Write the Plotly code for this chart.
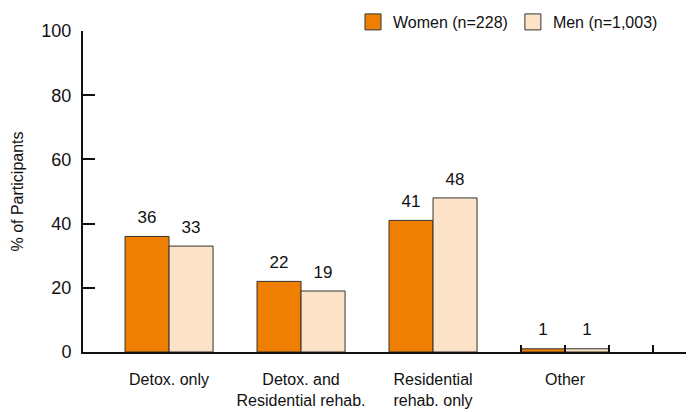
import plotly.graph_objects as go

# data
categories = ["Detox. only", "Detox. and<br>Residential rehab.", "Residential<br>rehab. only", "Other"]
women = [36, 22, 41, 1]
men = [33, 19, 48, 1]
series_names = ["Women (n=228)", "Men (n=1,003)"]
y_ticks = [0, 20, 40, 60, 80, 100]

FONT = "Liberation Sans, Arial, Helvetica, sans-serif"
ORANGE = "#EE7F00"
PEACH = "#FCE2C6"
EDGE = "#333333"
# page has an 8px body margin, so margins are pulled in by 8px
X_RANGE = [-0.652, 4.038]

fig = go.Figure()
for name, vals, color in [(series_names[0], women, ORANGE), (series_names[1], men, PEACH)]:
    fig.add_trace(go.Bar(
        x=categories, y=vals, name=name, showlegend=False,
        marker=dict(color=color, line=dict(color=EDGE, width=1)),
    ))
    # value labels, lifted above the bars by an invisible marker
    fig.add_trace(go.Scatter(
        x=categories, y=vals, mode="markers+text", showlegend=False,
        text=[str(v) for v in vals], textposition="top center",
        textfont=dict(size=17, color="#111111", family=FONT),
        marker=dict(size=13, color="rgba(0,0,0,0)"),
        cliponaxis=False, hoverinfo="skip",
    ))

# legend entries live on the overlay axis so they don't join the scatter grouping
for name, color in [(series_names[0], ORANGE), (series_names[1], PEACH)]:
    fig.add_trace(go.Scatter(
        x=[None], y=[None], mode="markers", name=name, xaxis="x2",
        marker=dict(symbol="square", size=16, color=color, line=dict(color=EDGE, width=1)),
    ))

fig.update_layout(
    width=694, height=412,
    template="simple_white",
    barmode="group", bargap=0.333, bargroupgap=0,
    scattermode="group", scattergap=0.333,
    plot_bgcolor="white", paper_bgcolor="white",
    font=dict(family=FONT, size=16, color="#111111"),
    margin=dict(l=75, r=0, t=23, b=68, autoexpand=False),
    legend=dict(orientation="h", x=345 / 694, xanchor="left", xref="container",
                y=1 - 14 / 412, yanchor="middle", yref="container",
                font=dict(size=16), traceorder="normal", bgcolor="rgba(0,0,0,0)"),
    xaxis=dict(range=X_RANGE, showline=True, linecolor="#111111", linewidth=2,
               ticks="", tickfont=dict(size=16), ticklabelstandoff=12,
               automargin=False, fixedrange=True),
    # small upright ticks along the baseline at the right-hand end
    xaxis2=dict(overlaying="x", anchor="y", range=X_RANGE, showline=False, showgrid=False,
                zeroline=False, ticks="inside", ticklen=7, tickwidth=2, tickcolor="#111111",
                tickvals=[2.667, 3.0, 3.333, 3.667], showticklabels=False, automargin=False),
    yaxis=dict(range=[0, 100], tickvals=y_ticks, showline=True, linecolor="#111111", linewidth=2,
               ticks="inside", ticklen=12, tickwidth=2, tickcolor="#111111",
               showgrid=False, zeroline=False, tickfont=dict(size=18), automargin=False,
               ticklabelstandoff=6, fixedrange=True,
               title=dict(text="% of Participants", font=dict(size=16), standoff=14)),
)

fig.write_html("out.html")
